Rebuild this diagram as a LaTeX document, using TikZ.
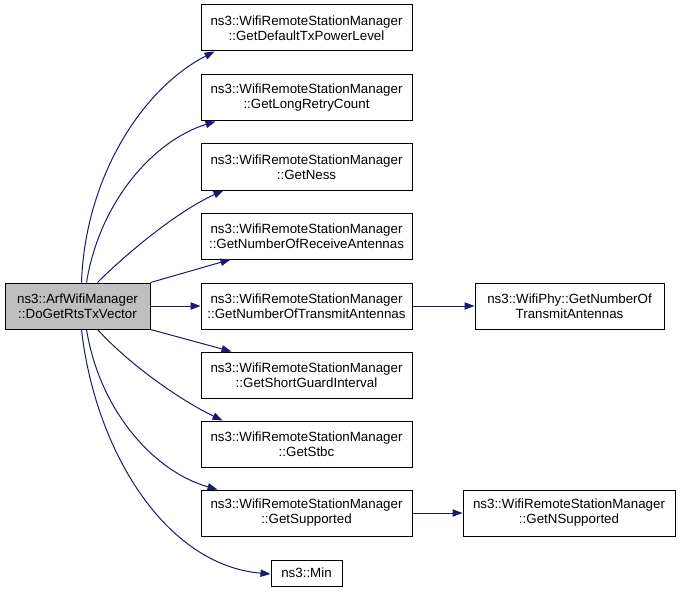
\documentclass[tikz,border=0pt]{standalone}
\usepackage{fontspec}
\setmainfont{Liberation Sans}
\usetikzlibrary{arrows.meta,calc}
\definecolor{edgecol}{HTML}{191970}
\definecolor{mainfill}{HTML}{BFBFBF}
\begin{document}
\begin{tikzpicture}[x=0.75pt,y=-0.75pt,
  box/.style={draw=black,line width=0.75pt,fill=white,inner sep=0pt,align=center,
    font=\fontsize{10}{11.25}\selectfont,minimum height=34.5pt},
  colbox/.style={box,minimum width=158.25pt},
  edge/.style={draw=edgecol,line width=0.75pt,-{Triangle[length=7.5pt,width=5.5pt]}}]
\useasboundingbox (0,0) rectangle (680,595);
\node[box,fill=mainfill,minimum width=108.75pt] (main) at (77.5,306) {ns3::ArfWifiManager\\::DoGetRtsTxVector};
\node[colbox] (n1) at (306.5,28) {ns3::WifiRemoteStationManager\\::GetDefaultTxPowerLevel};
\node[colbox] (n2) at (306.5,98) {ns3::WifiRemoteStationManager\\::GetLongRetryCount};
\node[colbox] (n3) at (306.5,167) {ns3::WifiRemoteStationManager\\::GetNess};
\node[colbox] (n4) at (306.5,236) {ns3::WifiRemoteStationManager\\::GetNumberOfReceiveAntennas};
\node[colbox] (n5) at (306.5,306) {ns3::WifiRemoteStationManager\\::GetNumberOfTransmitAntennas};
\node[colbox] (n6) at (306.5,375) {ns3::WifiRemoteStationManager\\::GetShortGuardInterval};
\node[colbox] (n7) at (306.5,444) {ns3::WifiRemoteStationManager\\::GetStbc};
\node[colbox] (n8) at (306.5,513) {ns3::WifiRemoteStationManager\\::GetSupported};
\node[box,minimum width=53.25pt,minimum height=19.5pt] (min) at (306.5,573) {ns3::Min};
\node[box,minimum width=141.75pt] (phy) at (569.5,306) {ns3::WifiPhy::GetNumberOf\\TransmitAntennas};
\node[box,minimum width=159pt] (nsup) at (569,513) {ns3::WifiRemoteStationManager\\::GetNSupported};

\draw[edge] ($(main.north west)+(77,0)$) .. controls (85,180) and (140,90) .. ($(n1.south west)+(14,0)$);
\draw[edge] ($(main.north west)+(82,0)$) .. controls (100,200) and (155,140) .. ($(n2.south west)+(15,0)$);
\draw[edge] ($(main.north west)+(93,0)$) .. controls (130,250) and (180,210) .. ($(n3.south west)+(23,0)$);
\draw[edge] (main.north east) -- ($(n4.south west)+(30,0)$);
\draw[edge] (main.east) -- (n5.west);
\draw[edge] (main.south east) -- ($(n6.north west)+(31,0)$);
\draw[edge] ($(main.south west)+(93,0)$) .. controls (130,365) and (180,400) .. ($(n7.north west)+(22,0)$);
\draw[edge] ($(main.south west)+(82,0)$) .. controls (100,412) and (155,472) .. ($(n8.north west)+(17,0)$);
\draw[edge] ($(main.south west)+(77,0)$) .. controls (95,450) and (165,565) .. ($(min.west)+(0,1)$);
\draw[edge] (n5.east) -- (phy.west);
\draw[edge] (n8.east) -- (nsup.west);
\end{tikzpicture}
\end{document}
